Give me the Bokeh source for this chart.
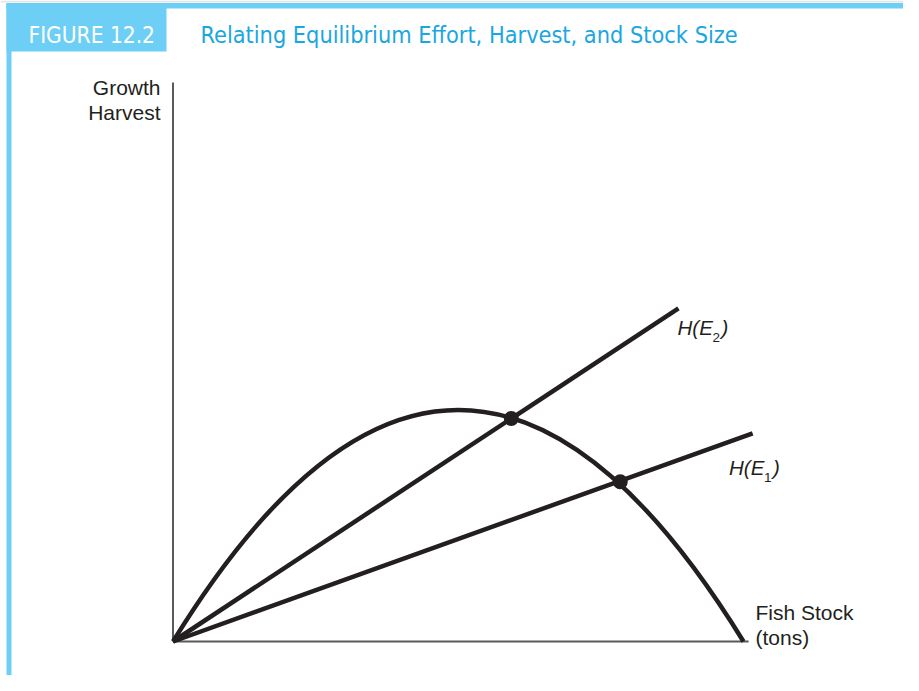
from bokeh.plotting import figure
from bokeh.models import Range1d
from bokeh.core.properties import value
from bokeh.embed import file_html
from bokeh.resources import INLINE

# ---------------- data ----------------
carrying_capacity = 100.0          # stock where growth falls back to zero
max_growth = 40.6                  # peak of the growth curve (at K/2)
growth_ends_stock = [0.0, carrying_capacity]
growth_ends_value = [0.0, 0.0]

harvest_labels = ["E1", "E2"]
harvest_end_stock = [101.6, 88.6]
harvest_end_value = [36.5, 58.4]

equilibrium_stock = [78.4, 59.3]
equilibrium_harvest = [28.0, 39.1]

axis_x_max = 100.9
axis_y_max = 98.0

title_tag = "FIGURE 12.2"
title_text = "Relating Equilibrium Effort, Harvest, and Stock Size"
y_label = ["Growth", "Harvest"]
x_label = ["Fish Stock", "(tons)"]

# ---------------- geometry helpers (screen px -> data) ----------------
W, H = 903, 675
SCALE = 5.705                 # px per data unit
OX, OY = 172.5, 641.0         # origin in figure px (from left / from top)


def fx(xr):
    return (xr - OX) / SCALE


def fy(yr):
    return (OY - yr) / SCALE


def ft(yr, size):
    # baseline position for text of a given px size (renderer sits it lower)
    return fy(yr - 0.38 * size)


p = figure(width=W, height=H, output_backend="svg", toolbar_location=None,
           x_range=Range1d(-OX / SCALE, (W - OX) / SCALE),
           y_range=Range1d(-(H - OY) / SCALE, OY / SCALE),
           x_axis_type=None, y_axis_type=None, min_border=0,
           background_fill_color="white", border_fill_color="white")
p.outline_line_color = None
p.xgrid.visible = False
p.ygrid.visible = False

BLUE = "#6dcff6"
TITLE_BLUE = "#1aa6df"
INK = "#231f20"
AXIS = "#5a5a5a"

# frame decorations
p.quad(left=[fx(0)], right=[fx(919)], top=[fy(0)], bottom=[fy(2)],
       fill_color="#e6e6e6", line_color=None)
p.quad(left=[fx(6)], right=[fx(919)], top=[fy(2.5)], bottom=[fy(8)],
       fill_color=BLUE, line_color=None)
p.quad(left=[fx(6)], right=[fx(11)], top=[fy(2.5)], bottom=[fy(691)],
       fill_color=BLUE, line_color=None)
p.quad(left=[fx(6)], right=[fx(166)], top=[fy(2.5)], bottom=[fy(51)],
       fill_color=BLUE, line_color=None)

COND = value("'Liberation Sans Narrow', 'DejaVu Sans Condensed', 'Roboto', sans-serif")
p.text(x=[fx(28)], y=[ft(43, 22.5)], text=[title_tag], text_font=COND,
       text_font_size="22.5px", text_color="white", text_baseline="alphabetic")
p.text(x=[fx(200)], y=[ft(43, 23.3)], text=[title_text], text_font=COND,
       text_font_size="23.3px", text_color=TITLE_BLUE, text_baseline="alphabetic")

# axes
p.segment(x0=[0, 0], y0=[0, 0], x1=[0, axis_x_max], y1=[axis_y_max, 0],
          line_color=AXIS, line_width=2)

# growth curve (parabola as quadratic Bezier)
p.quadratic(x0=[growth_ends_stock[0]], y0=[growth_ends_value[0]],
            x1=[growth_ends_stock[1]], y1=[growth_ends_value[1]],
            cx=[carrying_capacity / 2], cy=[2 * max_growth],
            line_color=INK, line_width=4.5)

# harvest lines
p.segment(x0=[0, 0], y0=[0, 0], x1=harvest_end_stock, y1=harvest_end_value,
          line_color=INK, line_width=4.5)

# equilibria
p.scatter(x=equilibrium_stock, y=equilibrium_harvest, size=15,
          fill_color=INK, line_color=None)

SANS = value("Liberation Sans")
p.text(x=[fx(160)] * 2, y=[ft(95, 21), ft(119.5, 21)], text=y_label, text_font=SANS,
       text_font_size="21px", text_color=INK, text_align="right",
       text_baseline="alphabetic")
p.text(x=[fx(755)] * 2, y=[ft(619.5, 21), ft(645, 21)], text=x_label, text_font=SANS,
       text_font_size="21px", text_color=INK, text_align="left",
       text_baseline="alphabetic")

# H(E) labels with subscripts
lab_x = [728.5, 677]
lab_y = [475, 335]
p.text(x=[fx(v) for v in lab_x], y=[ft(v, 20.5) for v in lab_y],
       text=["H(E"] * 2, text_font=SANS, text_font_style="italic",
       text_font_size="20.5px", text_color=INK, text_baseline="alphabetic")
p.text(x=[fx(v + 35) for v in lab_x], y=[ft(v + 7.5, 13.5) for v in lab_y],
       text=[s[1] for s in harvest_labels], text_font=SANS,
       text_font_size="13.5px", text_color=INK, text_baseline="alphabetic")
p.text(x=[fx(v + 44) for v in lab_x], y=[ft(v, 20.5) for v in lab_y],
       text=[")"] * 2, text_font=SANS, text_font_style="italic",
       text_font_size="20.5px", text_color=INK, text_baseline="alphabetic")

open("out.html", "w").write(file_html(p, INLINE))
